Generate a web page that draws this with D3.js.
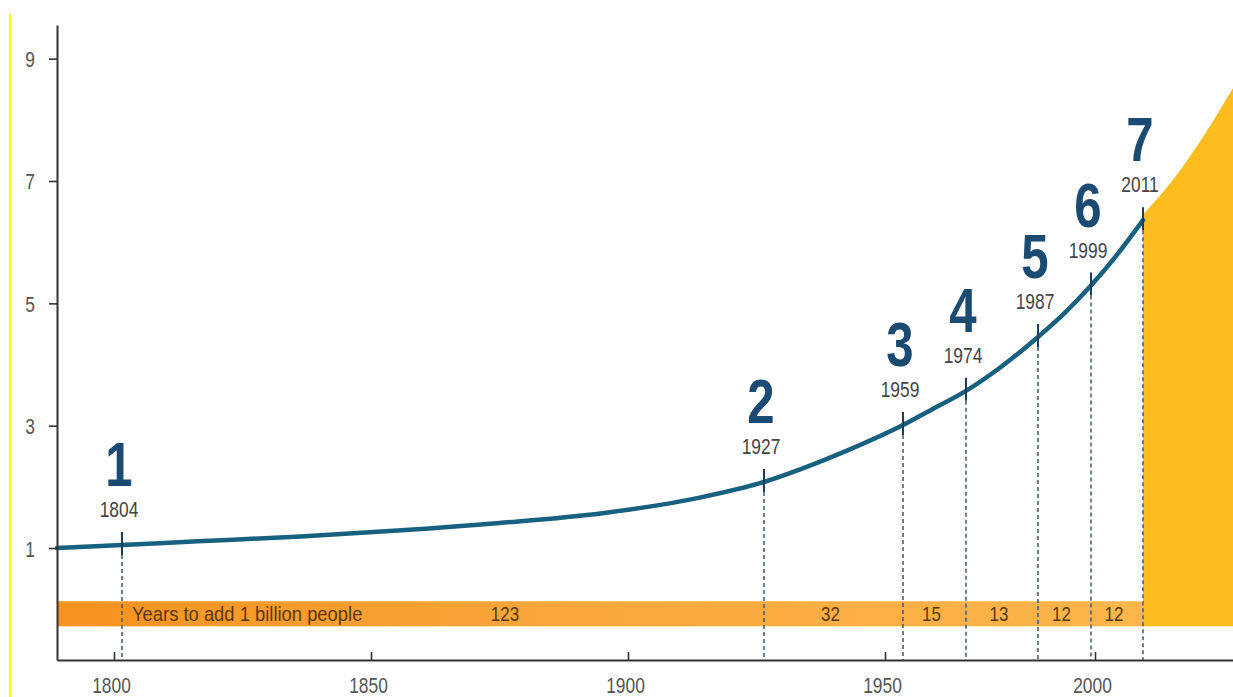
<!DOCTYPE html>
<html>
<head>
<meta charset="utf-8">
<script src="https://cdn.jsdelivr.net/npm/d3@7"></script>
<style>
  body { margin: 0; background: #fff; }
  svg { display: block; font-family: "Liberation Sans", Arial, sans-serif; }
</style>
</head>
<body>
<svg></svg>
<script>
const svgWidth = 1233
const svgHeight = 697

// population curve as drawn (billions)
const curveYears = [1789, 1804, 1818, 1837, 1856, 1875, 1895, 1914, 1927, 1934, 1943, 1959, 1966, 1974, 1980, 1987, 1993, 1999, 2005, 2011]
const curveValues = [1.00, 1.05, 1.11, 1.19, 1.29, 1.41, 1.57, 1.82, 2.08, 2.29, 2.60, 3.01, 3.27, 3.57, 3.94, 4.45, 4.84, 5.29, 5.79, 6.36]

// projection wedge after 2011
const projYears = [2011, 2018, 2025, 2032]
const projValues = [6.45, 7.02, 7.72, 8.52]

// billion milestones
const milestoneLabels = ["1", "2", "3", "4", "5", "6", "7"]
const milestoneYears = [1804, 1927, 1959, 1974, 1987, 1999, 2011]

const xTicks = [1800, 1850, 1900, 1950, 2000]
const yTicks = [1, 3, 5, 7, 9]
const bandText = "Years to add 1 billion people"

// the original is not drawn to scale, so the x scale is piecewise
const xKnots = [1789, 1800, 1804, 1850, 1900, 1927, 1950, 1959, 1974, 1987, 1999, 2000, 2011, 2032]
const xKnotPx = [57, 114, 122, 371, 628, 764, 885, 903, 966, 1038, 1091, 1095, 1143, 1233]
const bandTop = 0.13
const bandBottom = -0.28

const svg = d3.select("svg")
    .attr("width", svgWidth)
    .attr("height", svgHeight)

const xScale = d3.scaleLinear().domain(xKnots).range(xKnotPx)
const yScale = d3.scaleLinear().domain([-0.83, 9.55]).range([660, 25])

// condensed look: squeeze text horizontally around its anchor
function narrow(sel, sx) {
    sel.each(function () {
        const t = d3.select(this)
        const x = +t.attr("x") || 0
        const y = +t.attr("y") || 0
        t.attr("transform", `translate(${x},${y}) scale(${sx},1)`)
            .attr("x", 0)
            .attr("y", 0)
    })
}

// yellow frame edge on the left
svg.append("line")
    .attr("x1", 10).attr("x2", 10)
    .attr("y1", 14).attr("y2", svgHeight)
    .attr("stroke", "#ffff00")
    .attr("stroke-width", 2)

// band gradient
const grad = svg.append("defs").append("linearGradient")
    .attr("id", "band")
    .attr("x1", "0%").attr("x2", "100%")
grad.append("stop").attr("offset", "0%").attr("stop-color", "#f6921e")
grad.append("stop").attr("offset", "45%").attr("stop-color", "#f9a63a")
grad.append("stop").attr("offset", "100%").attr("stop-color", "#fcb64c")

svg.append("rect")
    .attr("x", xScale(xKnots[0]))
    .attr("y", yScale(bandTop))
    .attr("width", xScale(2011) - xScale(xKnots[0]))
    .attr("height", yScale(bandBottom) - yScale(bandTop))
    .attr("fill", "url(#band)")

// projection wedge
const projData = projYears.map((d, i) => ({ year: d, value: projValues[i] }))
svg.append("path")
    .datum(projData)
    .attr("d", d3.area()
        .x((d) => xScale(d.year))
        .y0(yScale(bandBottom))
        .y1((d) => yScale(d.value))
        .curve(d3.curveMonotoneX))
    .attr("fill", "#fdbd1e")

const curveData = curveYears.map((d, i) => ({ year: d, value: curveValues[i] }))
const milestones = milestoneYears.map((d, i) => {
    const pt = curveData.find((c) => c.year === d)
    return { label: milestoneLabels[i], year: d, value: pt.value }
})

// dashed drop lines
svg.selectAll(".drop")
    .data(milestones)
    .join("line")
    .attr("class", "drop")
    .attr("x1", (d) => xScale(d.year))
    .attr("x2", (d) => xScale(d.year))
    .attr("y1", (d) => yScale(d.value) + 10)
    .attr("y2", yScale(-0.83))
    .attr("stroke", "#46627f")
    .attr("stroke-width", 1.6)
    .attr("stroke-dasharray", "4,3")

// population curve
svg.append("path")
    .datum(curveData)
    .attr("d", d3.line()
        .x((d) => xScale(d.year))
        .y((d) => yScale(d.value))
        .curve(d3.curveMonotoneX))
    .attr("fill", "none")
    .attr("stroke", "#17607f")
    .attr("stroke-width", 4.5)
    .attr("stroke-linecap", "round")

// solid marks crossing the curve
svg.selectAll(".mark")
    .data(milestones)
    .join("line")
    .attr("class", "mark")
    .attr("x1", (d) => xScale(d.year))
    .attr("x2", (d) => xScale(d.year))
    .attr("y1", (d) => yScale(d.value) - 13)
    .attr("y2", (d) => yScale(d.value) + 10)
    .attr("stroke", "#1e3d5c")
    .attr("stroke-width", 2)

svg.selectAll(".yr")
    .data(milestones)
    .join("text")
    .attr("class", "yr")
    .attr("x", (d) => xScale(d.year) - 3)
    .attr("y", (d) => yScale(d.value) - 28)
    .attr("text-anchor", "middle")
    .attr("font-size", 22)
    .attr("fill", "#444")
    .text((d) => d.year)
    .call(narrow, 0.79)

svg.selectAll(".big")
    .data(milestones)
    .join("text")
    .attr("class", "big")
    .attr("x", (d) => xScale(d.year) - 3)
    .attr("y", (d) => yScale(d.value) - 59)
    .attr("text-anchor", "middle")
    .attr("font-size", 63)
    .attr("font-weight", "bold")
    .attr("fill", "#1b4a72")
    .text((d) => d.label)
    .call(narrow, 0.78)

// band labels
const bandMid = (yScale(bandTop) + yScale(bandBottom)) / 2
svg.append("text")
    .attr("x", xScale(1804) + 10)
    .attr("y", bandMid + 7)
    .attr("font-size", 20)
    .attr("fill", "#5a3810")
    .text(bandText)
    .call(narrow, 0.92)

const gaps = milestones.slice(1).map((d, i) => ({
    n: d.year - milestones[i].year,
    mid: (xScale(d.year) + xScale(milestones[i].year)) / 2
}))
svg.selectAll(".gap")
    .data(gaps)
    .join("text")
    .attr("class", "gap")
    .attr("x", (d, i) => i === 0 ? d.mid + 62 : d.mid - 3)
    .attr("y", bandMid + 7)
    .attr("text-anchor", "middle")
    .attr("font-size", 20)
    .attr("fill", "#5a3810")
    .text((d) => d.n)
    .call(narrow, 0.85)

// axes
const xAxis = svg.append("g")
    .attr("transform", `translate(0,${yScale(-0.83)})`)
    .call(d3.axisBottom(xScale)
        .tickValues(xTicks)
        .tickFormat(d3.format("d"))
        .tickSizeInner(-8)
        .tickSizeOuter(0))

const yAxis = svg.append("g")
    .attr("transform", `translate(${xScale(xKnots[0])},0)`)
    .call(d3.axisLeft(yScale)
        .tickValues(yTicks)
        .tickSizeInner(8)
        .tickSizeOuter(0))

;[xAxis, yAxis].forEach((g) => {
    g.attr("font-family", null)
    g.select(".domain").attr("stroke", "#333").attr("stroke-width", 2)
    g.selectAll(".tick line").attr("stroke", "#333").attr("stroke-width", 1.6)
    g.selectAll(".tick text")
        .attr("font-size", 22)
        .attr("fill", "#555")
        .attr("dy", null)
})
xAxis.selectAll(".tick text").attr("x", -3).attr("y", 33).call(narrow, 0.79)
yAxis.selectAll(".tick text").attr("x", -22).attr("y", 8).call(narrow, 0.79)
</script>
</body>
</html>
